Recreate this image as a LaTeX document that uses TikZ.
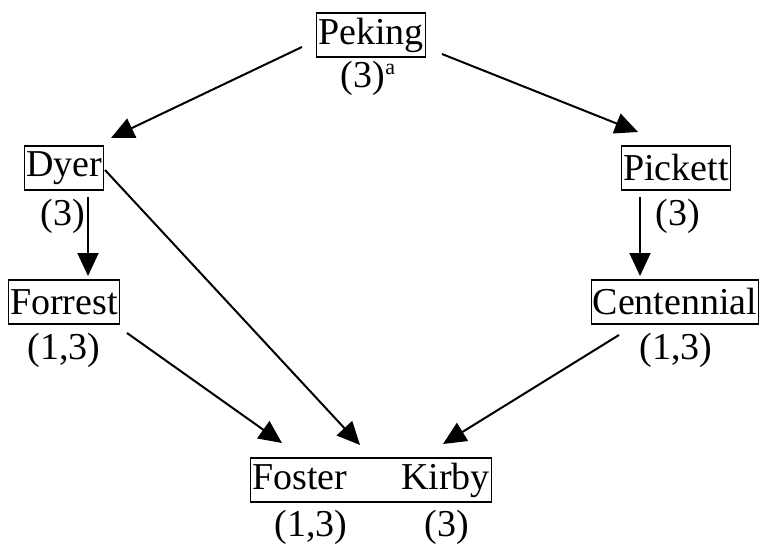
\documentclass[tikz,border=0pt]{standalone}
\usepackage{fontspec}
\setmainfont{Liberation Serif}
\usetikzlibrary{arrows.meta}
\begin{document}
\begin{tikzpicture}[x=1pt,y=-1pt,
  every node/.style={font=\fontsize{38}{40}\selectfont, inner sep=0pt},
  box/.style={draw, line width=1.1pt, inner xsep=1.5pt, minimum height=44pt},
  lbl/.style={},
  arr/.style={line width=2pt, -{Triangle[length=23pt,width=21pt]}}]
\useasboundingbox (0,0) rectangle (763,548);
% nodes
\node[box] (peking) at (371,35) {Peking};
\node[lbl] (pekingl) at (368,78) {(3)\raisebox{13pt}{\fontsize{22}{22}\selectfont a}};
\node[box] (dyer) at (64,168) {Dyer};
\node[lbl] (dyerl) at (63,216) {(3)};
\node[box] (forrest) at (64,302) {Forrest};
\node[lbl] (forrestl) at (64,350) {(1,3)};
\node[box] (pickett) at (676,168) {Pickett};
\node[lbl] (pickettl) at (678,216) {(3)};
\node[box] (cent) at (675,302) {Centennial};
\node[lbl] (centl) at (676,350) {(1,3)};
\node[box] (fk) at (371,480) {Foster\hspace{54pt}Kirby};
\node[lbl] (fosterl) at (311,527) {(1,3)};
\node[lbl] (kirbyl) at (447,527) {(3)};
% connector end points
\coordinate (s1) at (302,47);  \coordinate (t1) at (111,138);
\coordinate (s2) at (442,54);  \coordinate (t2) at (638,132);
\coordinate (s3) at (105,170); \coordinate (t3) at (360,445);
\coordinate (s4) at (127,333); \coordinate (t4) at (282,443);
\coordinate (s5) at (619,335); \coordinate (t5) at (443,444);
\coordinate (s6) at (88,197);  \coordinate (t6) at (88,276);
\coordinate (s7) at (640,197); \coordinate (t7) at (640,276);
% connectors
\draw[arr] (s1) -- (t1);
\draw[arr] (s2) -- (t2);
\draw[arr] (s3) -- (t3);
\draw[arr] (s4) -- (t4);
\draw[arr] (s5) -- (t5);
\draw[arr] (s6) -- (t6);
\draw[arr] (s7) -- (t7);
\end{tikzpicture}
\end{document}
